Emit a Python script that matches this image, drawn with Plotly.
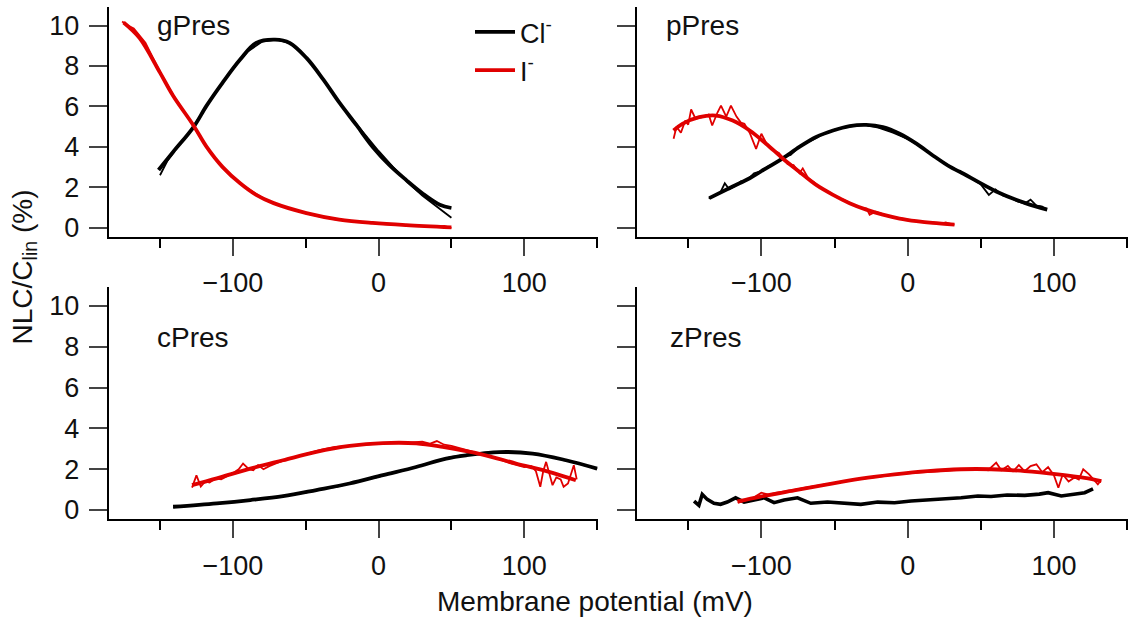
import plotly.graph_objects as go

# ---------------- data ----------------
# gPres (top left)
g_cl_fit_x = [-151, -141, -127, -118, -107, -95, -84, -71, -61, -49.5, -38, -27, -15, -4, 7.5, 19, 30, 42, 50]
g_cl_fit_y = [2.86, 3.75, 4.98, 6.04, 7.18, 8.32, 9.14, 9.3, 9.14, 8.4, 7.34, 6.2, 5.06, 4.0, 3.1, 2.36, 1.71, 1.14, 0.98]
g_cl_dat_x = [-150, -145, -140, -130, -120, -110, -100, -90, -80, -70, -60, -50, -40, -30, -20, -10, 0, 10, 20, 30, 40, 50]
g_cl_dat_y = [2.6, 3.3, 3.8, 4.7, 5.8, 6.9, 7.9, 8.7, 9.2, 9.3, 9.1, 8.45, 7.55, 6.5, 5.55, 4.65, 3.8, 3.0, 2.25, 1.6, 1.05, 0.5]
g_i_fit_x = [-175, -164, -150, -141, -127, -118, -107, -95, -84, -72, -49.5, -27, -4, 19, 50]
g_i_fit_y = [10.15, 9.38, 7.67, 6.53, 5.06, 4.0, 3.0, 2.2, 1.63, 1.22, 0.73, 0.41, 0.24, 0.13, 0.02]
g_i_dat_x = [-176, -172, -168, -160, -150, -140, -130, -120, -110, -100, -90, -80, -70, -60, -50, -40, -30, -20, -10, 0, 10, 20, 30, 40, 45, 50]
g_i_dat_y = [10.2, 10.0, 9.85, 9.15, 7.7, 6.45, 5.35, 4.2, 3.25, 2.5, 1.95, 1.5, 1.15, 0.92, 0.72, 0.55, 0.42, 0.33, 0.26, 0.2, 0.16, 0.12, 0.08, 0.05, 0.1, -0.02]

# pPres (top right)
p_cl_fit_x = [-135.6, -119.6, -108, -96.8, -85.4, -74, -62.5, -51, -39.7, -28.3, -17, -5.5, 6, 17, 28.8, 35.6, 60.5, 80.5, 95.4]
p_cl_fit_y = [1.47, 2.04, 2.45, 2.94, 3.43, 4.0, 4.49, 4.81, 5.03, 5.09, 4.98, 4.65, 4.16, 3.59, 3.02, 2.77, 1.8, 1.22, 0.9]
p_cl_dat_x = [-136, -132, -128, -125, -122, -118, -114, -110, -105, -100, -95, -90, -85, -80, -75, -70, -65, -60, -50, -40,
              -30, -20, -10, 0, 10, 20, 30, 40, 50, 55.5, 60, 65, 70, 75, 80, 84, 88, 92, 95]
p_cl_dat_y = [1.45, 1.6, 1.75, 2.2, 1.9, 2.05, 2.3, 2.35, 2.7, 2.8, 3.05, 3.2, 3.5, 3.6, 3.95, 4.2, 4.35, 4.55, 4.85, 5.0,
              5.1, 4.95, 4.7, 4.4, 3.95, 3.45, 3.0, 2.6, 2.15, 1.63, 1.9, 1.6, 1.5, 1.3, 1.2, 1.39, 1.1, 1.05, 0.85]
p_i_fit_x = [-160, -154, -142.5, -131, -119.6, -108, -96.8, -85.4, -74, -62.5, -51, -39.7, -28.3, -17, -5.5, 6, 17, 32]
p_i_fit_y = [4.81, 5.14, 5.47, 5.55, 5.3, 4.81, 4.16, 3.43, 2.77, 2.12, 1.63, 1.22, 0.9, 0.65, 0.46, 0.33, 0.24, 0.16]
p_i_dat_x = [-160, -158, -155, -152, -150, -148, -145, -142, -139, -136, -133.6, -130, -127.6, -124, -120.8, -117, -114, -111.6,
             -108, -103.6, -100, -96, -92, -88, -85, -82, -78, -74, -71.7, -68, -64, -60, -56, -52, -48, -44, -40, -36, -32,
             -28, -26, -22, -18, -14, -10, -6, -2, 2, 6, 10, 14, 18, 22, 26, 30, 32]
p_i_dat_y = [4.4, 5.0, 4.7, 5.3, 5.1, 5.85, 5.4, 5.45, 5.5, 5.6, 5.06, 5.7, 6.04, 5.5, 6.04, 5.5, 5.2, 5.14,
             4.7, 3.9, 4.65, 4.1, 3.85, 3.7, 3.4, 3.15, 3.1, 2.7, 2.94, 2.45, 2.25, 2.0, 1.85, 1.7, 1.5, 1.4, 1.25, 1.1, 1.0,
             0.95, 0.65, 0.8, 0.7, 0.6, 0.5, 0.48, 0.42, 0.38, 0.33, 0.3, 0.28, 0.26, 0.2, 0.27, 0.18, 0.16]

# cPres (bottom left)
c_cl_fit_x = [-141, -111, -88, -65.5, -42.7, -19.9, 3, 25.8, 46.4, 60, 83, 105.7, 128.6, 150]
c_cl_fit_y = [0.16, 0.33, 0.49, 0.68, 0.98, 1.3, 1.71, 2.11, 2.52, 2.68, 2.84, 2.77, 2.44, 2.03]
c_cl_dat_x = [-141, -130, -120, -110, -100, -90, -80, -70, -60, -50, -40, -30, -20, -10, 0, 10, 20, 30, 40, 50,
              60, 70, 80, 90, 100, 110, 120, 130, 140, 150]
c_cl_dat_y = [0.13, 0.2, 0.28, 0.33, 0.38, 0.47, 0.55, 0.62, 0.76, 0.85, 1.02, 1.12, 1.3, 1.48, 1.62, 1.85, 2.0, 2.2, 2.4, 2.6,
              2.7, 2.8, 2.85, 2.86, 2.82, 2.72, 2.58, 2.42, 2.22, 2.02]
c_i_fit_x = [-128, -111, -88, -65.5, -42.7, -19.9, 3, 25.8, 44, 71.4, 94.3, 117, 135.4]
c_i_fit_y = [1.22, 1.55, 2.03, 2.44, 2.85, 3.14, 3.28, 3.27, 3.09, 2.72, 2.28, 1.87, 1.46]
c_i_dat_x = [-128, -125, -122, -119, -116, -112, -108, -104, -100, -96, -93, -89, -86, -82.7, -79, -75, -70, -60, -50, -40,
             -30, -20, -10, 0, 10, 20, 30, 35, 40, 45, 50, 60, 70, 80, 90, 95, 100, 105, 108, 111, 113, 115, 117, 119.4,
             122, 125, 127, 130, 134, 136]
c_i_dat_y = [1.1, 1.7, 1.15, 1.4, 1.35, 1.55, 1.5, 1.65, 1.8, 2.0, 2.28, 2.0, 1.95, 2.2, 2.0, 2.15, 2.3, 2.55, 2.75, 2.95,
             3.1, 3.15, 3.2, 3.25, 3.3, 3.3, 3.35, 3.25, 3.38, 3.2, 3.15, 2.95, 2.75, 2.55, 2.3, 2.2, 2.1, 2.15, 1.9, 1.14,
             1.9, 2.36, 1.8, 1.22, 1.6, 1.5, 1.14, 1.3, 2.2, 1.5]

# zPres (bottom right)
z_cl_dat_x = [-146, -142.7, -140.4, -137, -132.4, -127.9, -123.3, -117.6, -111.8, -105, -98, -91.3, -84.5, -75.3, -66.2,
              -54.8, -43.4, -32, -20.5, -9, 2.3, 13.7, 25.1, 36.5, 48, 57, 68, 80, 90, 96, 105, 114, 121, 126.7]
z_cl_dat_y = [0.44, 0.23, 0.77, 0.52, 0.33, 0.28, 0.39, 0.6, 0.39, 0.49, 0.6, 0.36, 0.49, 0.6, 0.33,
              0.39, 0.33, 0.28, 0.39, 0.36, 0.44, 0.49, 0.52, 0.6, 0.69, 0.66, 0.74, 0.72, 0.78, 0.85, 0.69, 0.77, 0.85, 1.04]
z_i_fit_x = [-116.4, -100.5, -77.6, -54.8, -32, -9, 13.7, 36.5, 57, 80, 102.7, 121, 132.4]
z_i_fit_y = [0.42, 0.66, 0.96, 1.26, 1.54, 1.75, 1.91, 2.0, 2.0, 1.91, 1.75, 1.58, 1.42]
z_i_dat_x = [-116, -110, -105, -100, -95, -90, -85, -80, -70, -60, -50, -40, -30, -20, -10, 0, 10, 20, 30, 40, 50, 55,
             60.5, 64, 68.5, 72, 76, 80, 84, 88, 92, 96, 100, 103, 106, 110, 114, 117, 120, 124, 127, 130, 132]
z_i_dat_y = [0.35, 0.5, 0.62, 0.85, 0.75, 0.85, 0.9, 0.95, 1.1, 1.2, 1.33, 1.45, 1.55, 1.65, 1.72, 1.8, 1.85, 1.92, 1.95,
             1.98, 2.0, 1.95, 2.32, 1.95, 2.16, 1.9, 2.2, 1.9, 2.15, 2.24, 1.85, 2.1, 1.7, 1.09, 1.75, 1.4, 1.6, 1.5, 2.0,
             1.75, 1.5, 1.26, 1.45]

panel_names = ["gPres", "pPres", "cPres", "zPres"]
legend_names = ["Cl<sup>-</sup>", "I<sup>-</sup>"]
x_ticks = [-100, 0, 100]
y_ticks = [0, 2, 4, 6, 8, 10]

# ---------------- figure ----------------
BLACK = "#000000"
RED = "#e00000"
FONT = "Liberation Sans, Arial, Helvetica, sans-serif"

fig = go.Figure()

panels = [
    dict(ax=("x", "y"), cl_dat=(g_cl_dat_x, g_cl_dat_y), cl_fit=(g_cl_fit_x, g_cl_fit_y),
         i_dat=(g_i_dat_x, g_i_dat_y), i_fit=(g_i_fit_x, g_i_fit_y)),
    dict(ax=("x2", "y2"), cl_dat=(p_cl_dat_x, p_cl_dat_y), cl_fit=(p_cl_fit_x, p_cl_fit_y),
         i_dat=(p_i_dat_x, p_i_dat_y), i_fit=(p_i_fit_x, p_i_fit_y)),
    dict(ax=("x3", "y3"), cl_dat=(c_cl_dat_x, c_cl_dat_y), cl_fit=(c_cl_fit_x, c_cl_fit_y),
         i_dat=(c_i_dat_x, c_i_dat_y), i_fit=(c_i_fit_x, c_i_fit_y)),
    dict(ax=("x4", "y4"), cl_dat=(z_cl_dat_x, z_cl_dat_y), cl_fit=None,
         i_dat=(z_i_dat_x, z_i_dat_y), i_fit=(z_i_fit_x, z_i_fit_y)),
]

for k, p in enumerate(panels):
    xa, ya = p["ax"]
    # Cl- data
    fig.add_trace(go.Scatter(x=p["cl_dat"][0], y=p["cl_dat"][1], mode="lines", xaxis=xa, yaxis=ya,
                             line=dict(color=BLACK, width=1.8 if p["cl_fit"] else 3.6),
                             showlegend=False, hoverinfo="skip"))
    # I- data
    fig.add_trace(go.Scatter(x=p["i_dat"][0], y=p["i_dat"][1], mode="lines", xaxis=xa, yaxis=ya,
                             line=dict(color=RED, width=1.8), showlegend=False, hoverinfo="skip"))
    # Cl- fit
    if p["cl_fit"]:
        fig.add_trace(go.Scatter(x=p["cl_fit"][0], y=p["cl_fit"][1], mode="lines", xaxis=xa, yaxis=ya,
                                 line=dict(color=BLACK, width=3.8, shape="spline", smoothing=1.0),
                                 name=legend_names[0], showlegend=(k == 0), legendrank=1))
    # I- fit
    fig.add_trace(go.Scatter(x=p["i_fit"][0], y=p["i_fit"][1], mode="lines", xaxis=xa, yaxis=ya,
                             line=dict(color=RED, width=3.8, shape="spline", smoothing=1.0),
                             name=legend_names[1], showlegend=(k == 0), legendrank=2))

W, H = 1128, 630
xdom_left = [109 / W, 598 / W]
xdom_right = [637 / W, 1.0]
ydom_top = [1 - 239 / H, 1 - 7 / H]
ydom_bot = [1 - 524 / H, 1 - 290 / H]

xcommon = dict(range=[-185, 150.6], tickvals=x_ticks, ticks="outside", ticklen=17, tickwidth=2.4,
               showline=True, linecolor=BLACK, linewidth=2.4, showgrid=False, zeroline=False,
               tickfont=dict(family=FONT, size=27, color="#111"), ticklabelstandoff=4,
               minor=dict(tickvals=[-150, -50, 50, 150], ticks="outside", ticklen=9, tickwidth=2.4,
                          tickcolor=BLACK, showgrid=False))
ycommon = dict(range=[-0.44, 10.92], tickvals=y_ticks, ticks="outside", ticklen=18, tickwidth=2.4,
               showline=True, linecolor=BLACK, linewidth=2.4, showgrid=False, zeroline=False,
               tickfont=dict(family=FONT, size=27, color="#111"), ticklabelstandoff=4)
ycommon_nolab = {k: v for k, v in ycommon.items() if k not in ("tickfont", "ticklabelstandoff")}

fig.update_layout(
    width=W, height=H, margin=dict(l=0, r=0, t=0, b=0),
    paper_bgcolor="white", plot_bgcolor="white",
    font=dict(family=FONT, color="#111"),
    xaxis=dict(domain=xdom_left, anchor="y", **xcommon),
    xaxis2=dict(domain=xdom_right, anchor="y2", **xcommon),
    xaxis3=dict(domain=xdom_left, anchor="y3", **xcommon),
    xaxis4=dict(domain=xdom_right, anchor="y4", **xcommon),
    yaxis=dict(domain=ydom_top, anchor="x", **ycommon),
    yaxis2=dict(domain=ydom_top, anchor="x2", showticklabels=False, **ycommon_nolab),
    yaxis3=dict(domain=ydom_bot, anchor="x3", **ycommon),
    yaxis4=dict(domain=ydom_bot, anchor="x4", showticklabels=False, **ycommon_nolab),
    legend=dict(x=470 / W, y=1 - 8 / H, xanchor="left", yanchor="top", bgcolor="rgba(0,0,0,0)",
                font=dict(family=FONT, size=27, color="#111"), tracegroupgap=0, itemwidth=40),
    showlegend=True,
)

# panel labels
label_pos = [(155, 26), (664, 26), (155, 341), (668, 341)]
for name, (px, py) in zip(panel_names, label_pos):
    fig.add_annotation(text=name, x=px / W, y=1 - py / H, xref="paper", yref="paper",
                       xanchor="left", yanchor="middle", showarrow=False,
                       font=dict(family=FONT, size=28, color="#111"))

# axis titles
fig.add_annotation(text="NLC/C<sub>lin</sub> (%)", x=24 / W, y=1 - 270 / H, xref="paper", yref="paper",
                   textangle=-90, showarrow=False, xanchor="center", yanchor="middle",
                   font=dict(family=FONT, size=28, color="#111"))
fig.add_annotation(text="Membrane potential (mV)", x=595 / W, y=1 - 607 / H, xref="paper", yref="paper",
                   showarrow=False, xanchor="center", yanchor="middle",
                   font=dict(family=FONT, size=28, color="#111"))

fig.write_html("out.html")
